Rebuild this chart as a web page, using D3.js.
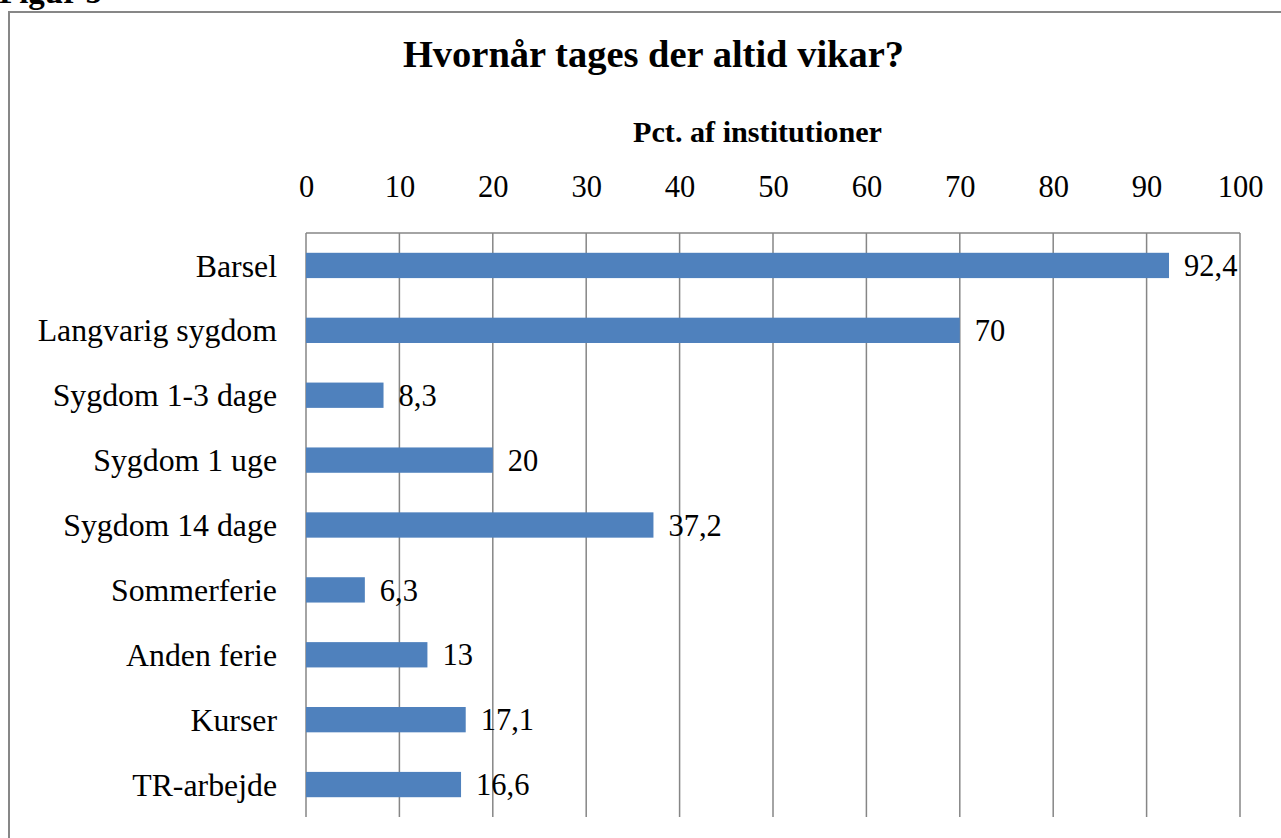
<!DOCTYPE html>
<html><head><meta charset="utf-8">
<script src="https://cdn.jsdelivr.net/npm/d3@7"></script>
<style>body{margin:0;background:#fff}svg{display:block}text{font-family:"Liberation Serif","Times New Roman",serif}</style>
</head><body>
<script>
const categories = ["Barsel","Langvarig sygdom","Sygdom 1-3 dage","Sygdom 1 uge","Sygdom 14 dage","Sommerferie","Anden ferie","Kurser","TR-arbejde"];
const values = [92.4, 70, 8.3, 20, 37.2, 6.3, 13, 17.1, 16.6];
const labels = ["92,4","70","8,3","20","37,2","6,3","13","17,1","16,6"];
const tickValues = [0,10,20,30,40,50,60,70,80,90,100];
const title = "Hvornår tages der altid vikar?";
const axisTitle = "Pct. af institutioner";

const W = 1281, H = 838;
const svg = d3.select("body").append("svg").attr("width", W).attr("height", H);

// frame
svg.append("path").attr("d", `M9,${H+5}V12H${W+5}`).attr("fill","none").attr("stroke","#878787").attr("stroke-width",2);
svg.append("text").attr("x",-1).attr("y",3).attr("font-size",33).attr("font-weight","bold").text("Figur 5");

const x = d3.scaleLinear().domain([0,100]).range([306,1240]);
const y = d3.scaleBand().domain(categories).range([233,817]).paddingInner(0.61).paddingOuter(0.305);

// gridlines
svg.append("g").selectAll("line").data(tickValues).join("line")
  .attr("x1",d=>x(d)).attr("x2",d=>x(d)).attr("y1",233).attr("y2",817)
  .attr("stroke","#868686").attr("stroke-width",1.5);
svg.append("line").attr("x1",x(0)).attr("x2",x(100)).attr("y1",233).attr("y2",233).attr("stroke","#868686").attr("stroke-width",1.5);

// axis labels
const ax = svg.append("g").attr("transform","translate(0,197)")
  .call(d3.axisTop(x).tickValues(tickValues).tickSize(0).tickPadding(0).tickFormat(d3.format("d")));
ax.select(".domain").remove();
ax.selectAll("text").attr("font-size",30.5).attr("fill","#000").attr("font-family","Liberation Serif");

// category labels
svg.append("g").selectAll("text").data(categories).join("text")
  .attr("x",277).attr("y",d=>y(d)+y.bandwidth()/2).attr("dy","0.35em")
  .attr("text-anchor","end").attr("font-size",31.8).text(d=>d);

// bars
svg.append("g").selectAll("rect").data(values).join("rect")
  .attr("x",x(0)).attr("y",(d,i)=>y(categories[i]))
  .attr("width",d=>x(d)-x(0)).attr("height",y.bandwidth()).attr("fill","#4F81BD");

// value labels
svg.append("g").selectAll("text").data(values).join("text")
  .attr("x",d=>x(d)+15).attr("y",(d,i)=>y(categories[i])+y.bandwidth()/2).attr("dy","0.35em")
  .attr("font-size",30.5).text((d,i)=>labels[i]);

svg.append("text").attr("x",653.5).attr("y",67).attr("text-anchor","middle").attr("font-size",38.5).attr("font-weight","bold").text(title);
svg.append("text").attr("x",757.5).attr("y",142).attr("text-anchor","middle").attr("font-size",30.2).attr("font-weight","bold").text(axisTitle);
</script>
</body></html>
